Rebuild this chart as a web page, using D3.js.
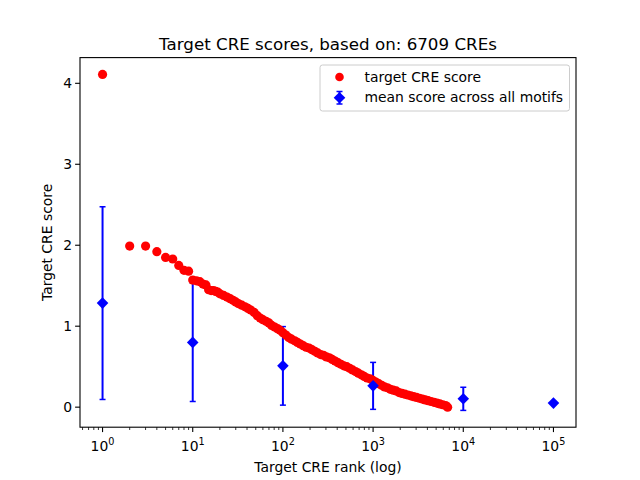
<!DOCTYPE html>
<html lang="en">
<head>
    <meta charset="UTF-8">
    <title>Target CRE scores</title>
    <script src="https://d3js.org/d3.v7.min.js"></script>
    <style>
        body {
            margin: 0;
            background: #fff;
            font-family: "DejaVu Sans", sans-serif;
        }
        text {
            fill: #000;
        }
    </style>
</head>
<body>
    <script>
        // Ranked target CRE scores (ranks sampled along the curve)
        const ranks = [1, 2, 3, 4, 5, 6, 7, 8, 9, 10, 11, 12, 13, 14, 15, 16, 17, 18, 19, 20,
            22, 24, 26, 28, 30, 32, 35, 38, 41, 44, 48, 52, 56, 60, 65, 70, 75, 81, 87, 93,
            100, 108, 116, 125, 135, 145, 156, 168, 181, 195, 210, 226, 243, 262, 282, 304,
            327, 352, 379, 408, 440, 474, 510, 550, 592, 638, 687, 740, 797, 858, 924, 995,
            1072, 1155, 1244, 1340, 1443, 1554, 1674, 1803, 1942, 2092, 2253, 2427, 2614,
            2815, 3032, 3266, 3518, 3789, 4081, 4396, 4735, 5100, 5493, 5916, 6372, 6709];
        const scores = [4.11, 1.99, 1.99, 1.92, 1.85, 1.83, 1.75, 1.69, 1.68, 1.57, 1.56, 1.55, 1.52, 1.51, 1.45, 1.44, 1.44, 1.43, 1.42, 1.40,
            1.38, 1.36, 1.34, 1.32, 1.30, 1.28, 1.26, 1.24, 1.22, 1.20, 1.17, 1.13, 1.10, 1.08, 1.06, 1.04, 1.01, 0.99, 0.97, 0.95,
            0.92, 0.89, 0.86, 0.84, 0.82, 0.80, 0.78, 0.76, 0.74, 0.73, 0.71, 0.69, 0.67, 0.65, 0.64, 0.62,
            0.61, 0.59, 0.57, 0.55, 0.53, 0.51, 0.50, 0.48, 0.46, 0.44, 0.42, 0.40, 0.38, 0.36, 0.35, 0.33,
            0.31, 0.29, 0.27, 0.25, 0.24, 0.22, 0.21, 0.20, 0.18, 0.17, 0.16, 0.15, 0.14,
            0.13, 0.12, 0.11, 0.10, 0.09, 0.08, 0.07, 0.06, 0.05, 0.04, 0.03, 0.02, 0.00];

        // Mean score across all motifs, with error bars
        const motifX = [1, 10, 100, 1000, 10000, 100000];
        const motifMean = [1.285, 0.80, 0.51, 0.263, 0.103, 0.05];
        const motifErr = [1.19, 0.73, 0.485, 0.29, 0.143, 0.0];

        const xTicks = [1, 10, 100, 1000, 10000, 100000];
        const yTicks = [0, 1, 2, 3, 4];

        const W = 640, H = 480;
        const m = { left: 80, right: 576, top: 57.6, bottom: 427.2 };

        const svg = d3.select("body").append("svg")
            .attr("width", W)
            .attr("height", H);

        // log x with 5% padding in log space, like matplotlib autoscale
        const x = d3.scaleLog()
            .domain([Math.pow(10, -0.25), Math.pow(10, 5.25)])
            .range([m.left, m.right]);

        const lo = Math.min(d3.min(scores), d3.min(motifMean.map((d, i) => d - motifErr[i])));
        const hi = Math.max(d3.max(scores), d3.max(motifMean.map((d, i) => d + motifErr[i])));
        const pad = (hi - lo) * 0.05;
        const y = d3.scaleLinear()
            .domain([lo - pad, hi + pad])
            .range([m.bottom, m.top]);

        const plot = svg.append("g");
        const ebData = motifX.map((v, i) => ({ x: v, m: motifMean[i], e: motifErr[i] }));

        // blue error bars (behind the red points)
        const eb = plot.selectAll("g.eb")
            .data(ebData.filter(d => d.e > 0))
            .join("g")
            .attr("class", "eb");
        eb.append("line")
            .attr("x1", d => x(d.x)).attr("x2", d => x(d.x))
            .attr("y1", d => y(d.m - d.e)).attr("y2", d => y(d.m + d.e))
            .attr("stroke", "#0000ff").attr("stroke-width", 2);
        eb.selectAll("line.cap")
            .data(d => [[d.x, d.m - d.e], [d.x, d.m + d.e]])
            .join("line")
            .attr("class", "cap")
            .attr("x1", d => x(d[0]) - 3).attr("x2", d => x(d[0]) + 3)
            .attr("y1", d => y(d[1])).attr("y2", d => y(d[1]))
            .attr("stroke", "#0000ff").attr("stroke-width", 1.5);

        // red points
        plot.selectAll("circle.score")
            .data(ranks.map((r, i) => [r, scores[i]]))
            .join("circle")
            .attr("class", "score")
            .attr("cx", d => x(d[0]))
            .attr("cy", d => y(d[1]))
            .attr("r", 4.6)
            .attr("fill", "#ff0000");

        // blue diamonds on top
        plot.selectAll("path.mean")
            .data(ebData)
            .join("path")
            .attr("class", "mean")
            .attr("d", d => {
                const cx = x(d.x), cy = y(d.m), s = 5.8;
                return `M${cx},${cy - s}L${cx + s},${cy}L${cx},${cy + s}L${cx - s},${cy}Z`;
            })
            .attr("fill", "#0000ff");

        // axes frame
        svg.append("rect")
            .attr("x", m.left).attr("y", m.top)
            .attr("width", m.right - m.left).attr("height", m.bottom - m.top)
            .attr("fill", "none").attr("stroke", "#000").attr("stroke-width", 1.1);

        // x axis: major + minor ticks
        const minor = [];
        for (let e = -1; e <= 5; e++) {
            for (let k = 2; k <= 9; k++) {
                const v = k * Math.pow(10, e);
                if (v >= x.domain()[0] && v <= x.domain()[1]) minor.push(v);
            }
        }
        svg.selectAll("line.xminor")
            .data(minor)
            .join("line")
            .attr("x1", d => x(d)).attr("x2", d => x(d))
            .attr("y1", m.bottom).attr("y2", m.bottom + 2.8)
            .attr("stroke", "#000").attr("stroke-width", 0.8);
        svg.selectAll("line.xmajor")
            .data(xTicks)
            .join("line")
            .attr("x1", d => x(d)).attr("x2", d => x(d))
            .attr("y1", m.bottom).attr("y2", m.bottom + 4.9)
            .attr("stroke", "#000").attr("stroke-width", 1.1);
        const xl = svg.selectAll("text.xlab")
            .data(xTicks)
            .join("text")
            .attr("x", d => x(d))
            .attr("y", m.bottom + 24)
            .attr("text-anchor", "middle")
            .style("font-size", "13.9px");
        xl.append("tspan").text("10");
        xl.append("tspan")
            .attr("dy", -6)
            .style("font-size", "9.7px")
            .text(d => Math.round(Math.log10(d)));

        // y axis
        svg.selectAll("line.ytick")
            .data(yTicks)
            .join("line")
            .attr("x1", m.left - 4.9).attr("x2", m.left)
            .attr("y1", d => y(d)).attr("y2", d => y(d))
            .attr("stroke", "#000").attr("stroke-width", 1.1);
        svg.selectAll("text.ylab")
            .data(yTicks)
            .join("text")
            .attr("x", m.left - 8)
            .attr("y", d => y(d) + 5)
            .attr("text-anchor", "end")
            .style("font-size", "13.9px")
            .text(d => d);

        // title and axis labels
        svg.append("text")
            .attr("x", (m.left + m.right) / 2).attr("y", 50)
            .attr("text-anchor", "middle")
            .style("font-size", "16.7px")
            .text("Target CRE scores, based on: 6709 CREs");
        svg.append("text")
            .attr("x", (m.left + m.right) / 2).attr("y", 472)
            .attr("text-anchor", "middle")
            .style("font-size", "13.9px")
            .text("Target CRE rank (log)");
        svg.append("text")
            .attr("transform", `translate(52,${(m.top + m.bottom) / 2}) rotate(-90)`)
            .attr("text-anchor", "middle")
            .style("font-size", "13.9px")
            .text("Target CRE score");

        // legend
        const lg = svg.append("g");
        lg.append("rect")
            .attr("x", 320).attr("y", 65)
            .attr("width", 249.5).attr("height", 46)
            .attr("rx", 2.5)
            .attr("fill", "#fff").attr("fill-opacity", 0.8)
            .attr("stroke", "#cccccc");
        lg.append("circle")
            .attr("cx", 339.5).attr("cy", 77)
            .attr("r", 4.3).attr("fill", "#ff0000");
        lg.append("line")
            .attr("x1", 339.5).attr("x2", 339.5)
            .attr("y1", 91.5).attr("y2", 104)
            .attr("stroke", "#0000ff").attr("stroke-width", 2);
        lg.selectAll("line.lcap")
            .data([91.5, 104])
            .join("line")
            .attr("x1", 336.5).attr("x2", 342.5)
            .attr("y1", d => d).attr("y2", d => d)
            .attr("stroke", "#0000ff").attr("stroke-width", 1.5);
        lg.append("path")
            .attr("d", "M339.5,92L345.3,97.8L339.5,103.6L333.7,97.8Z")
            .attr("fill", "#0000ff");
        lg.selectAll("text.ltxt")
            .data(["target CRE score", "mean score across all motifs"])
            .join("text")
            .attr("x", 364.5)
            .attr("y", (d, i) => 81.5 + i * 20.8)
            .style("font-size", "13.9px")
            .text(d => d);
    </script>
</body>
</html>
